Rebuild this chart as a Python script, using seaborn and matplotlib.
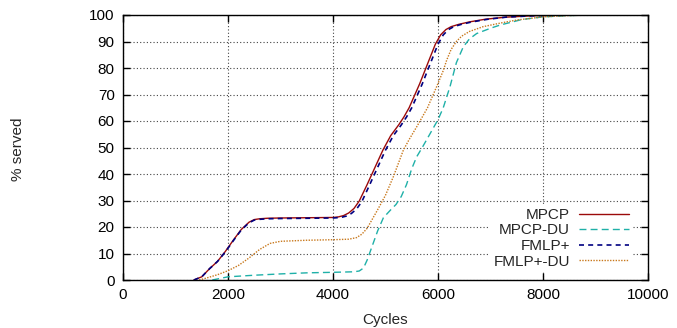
import matplotlib
matplotlib.use("Agg")
import matplotlib.pyplot as plt
import seaborn as sns
import pandas as pd

# ---- data ----
mpcp_x = [1350, 1500, 1650, 1800, 1950, 2100, 2250, 2400, 2500, 2600, 2750, 3000, 3500, 4000, 4100,
          4200, 4300, 4400, 4500, 4650, 4800, 4950, 5100, 5250, 5350, 5450, 5550, 5650, 5750, 5850,
          5950, 6050, 6150, 6250, 6400, 6600, 6900, 7300, 7800, 8300, 8700, 9000]
mpcp_y = [0, 1.2, 4.3, 7, 10.8, 15, 19, 21.8, 22.8, 23.1, 23.3, 23.4, 23.5, 23.6, 23.8,
          24.3, 25.3, 27, 29.8, 36, 42.5, 49, 54.5, 58.5, 61.5, 65, 69.5, 74, 79, 84,
          89, 92.5, 94.5, 95.6, 96.5, 97.4, 98.4, 99.2, 99.7, 99.9, 100, 100]

fmlp_x = [1350, 1500, 1650, 1800, 1950, 2100, 2250, 2400, 2500, 2600, 2750, 3000, 3500, 4000, 4150,
          4250, 4350, 4450, 4550, 4700, 4850, 5000, 5150, 5300, 5400, 5500, 5600, 5700, 5800, 5900,
          6000, 6100, 6200, 6300, 6450, 6650, 6950, 7300, 7800, 8300, 8700, 9000]
fmlp_y = [0, 1.2, 4.3, 7, 10.6, 14.8, 18.8, 21.6, 22.6, 22.9, 23.1, 23.2, 23.3, 23.4, 23.6,
          24.1, 25.1, 26.8, 29.6, 36, 42.5, 49, 54.5, 58.5, 61.5, 65, 69.5, 74, 79, 84,
          89, 92.5, 94.5, 95.6, 96.5, 97.4, 98.4, 99.2, 99.7, 99.9, 100, 100]

mpcpdu_x = [1700, 1900, 2000, 2500, 3000, 3500, 4000, 4400, 4500, 4580, 4650, 4750, 4850, 4960,
            5100, 5200, 5300, 5400, 5500, 5594, 5700, 5800, 5900, 6000, 6100, 6229, 6350, 6482,
            6600, 6736, 7000, 7181, 7600, 8000, 8500, 9000]
mpcpdu_y = [0, 0.8, 1.2, 1.8, 2.3, 2.7, 2.9, 3.1, 3.4, 4.5, 7.5, 13, 18.5, 23.5,
            26.5, 28.5, 31.5, 36, 42, 46.5, 50, 53.5, 57, 60.5, 65, 73, 82, 88,
            91, 93, 95, 96.2, 98.3, 99.3, 99.8, 100]

fmlpdu_x = [1450, 1600, 1800, 2000, 2200, 2400, 2600, 2800, 3000, 3500, 4000, 4300, 4450, 4550,
            4650, 4750, 4850, 5000, 5150, 5340, 5450, 5600, 5800, 5975, 6100, 6166, 6250, 6350,
            6450, 6600, 6860, 7200, 7500, 8000, 8500, 9000]
fmlpdu_y = [0, 0.8, 2, 3.5, 5.5, 8.3, 11.5, 13.8, 14.6, 15, 15.2, 15.4, 16, 17.3,
            19.5, 23, 26.5, 32, 39, 49, 53, 58, 65, 73, 79, 83, 87, 90,
            92, 93.8, 95.6, 97, 98.1, 99.3, 99.8, 100]

labels = ["MPCP", "MPCP-DU", "FMLP+", "FMLP+-DU"]
x_ticks = [0, 2000, 4000, 6000, 8000, 10000]
y_ticks = list(range(0, 101, 10))

# ---- styling ----
sns.set_theme(style="ticks")
plt.rcParams["font.family"] = ["Liberation Sans", "DejaVu Sans"]
plt.rcParams["font.size"] = 11

fig = plt.figure(figsize=(6.77, 3.28), dpi=100)
ax = fig.add_axes([123 / 677, 48 / 328, 525 / 677, 265 / 328])

series = [
    (mpcp_x, mpcp_y, labels[0], "#9b0a0a", None, 1.0),
    (mpcpdu_x, mpcpdu_y, labels[1], "#1fb0a8", (0, (5, 3)), 1.0),
    (fmlp_x, fmlp_y, labels[2], "#000080", (0, (3, 2.5)), 1.2),
    (fmlpdu_x, fmlpdu_y, labels[3], "#c8781c", (0, (1, 1)), 1.0),
]
for xs, ys, lab, col, ls, lw in series:
    df = pd.DataFrame({"x": xs, "y": ys})
    sns.lineplot(data=df, x="x", y="y", ax=ax, color=col, label=lab,
                 linewidth=lw, linestyle="-" if ls is None else ls)

ax.set_xlim(0, 10000)
ax.set_ylim(0, 100)
ax.set_xticks(x_ticks)
ax.set_yticks(y_ticks)
ax.set_xticklabels([str(v) for v in x_ticks])
ax.set_yticklabels([str(v) for v in y_ticks])
ax.grid(True, color="#444444", linestyle=(0, (1, 2)), linewidth=0.8)
ax.tick_params(direction="in", length=5, width=1, top=True, right=True,
               labelsize=11, colors="black", pad=6)
for s in ax.spines.values():
    s.set_color("black")
    s.set_linewidth(1)
ax.set_xlabel("Cycles", fontsize=11)
ax.set_ylabel("")
ax.xaxis.set_label_coords(0.5, -0.125)
fig.text(18 / 677, 0.545, "% served", rotation=90, ha="center", va="center", fontsize=11)

leg = ax.legend(loc="lower right", frameon=True, markerfirst=False,
                handlelength=3.3, labelspacing=0.1, fontsize=11,
                bbox_to_anchor=(0.985, 0.003), handletextpad=0.6,
                borderpad=0.2, fancybox=False)
leg.get_frame().set_facecolor("white")
leg.get_frame().set_edgecolor("none")
leg.get_frame().set_alpha(1.0)
for t in leg.get_texts():
    t.set_ha("right")

fig.savefig("out.png", dpi=100)
